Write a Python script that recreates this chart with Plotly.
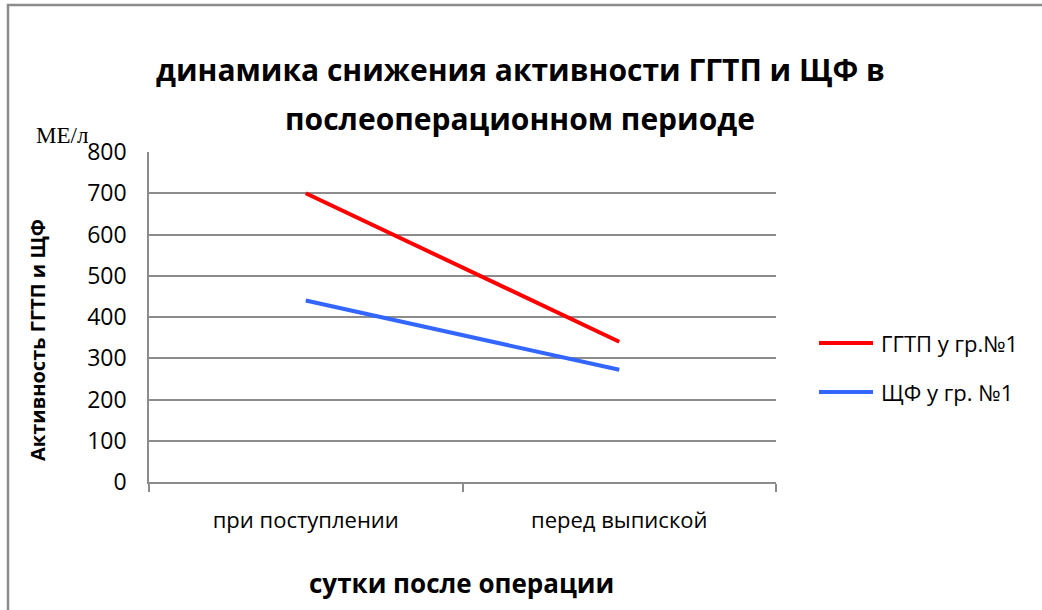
import plotly.graph_objects as go

# Data
categories = ["при поступлении", "перед выпиской"]
ggtp_values = [700, 340]
alp_values = [440, 272]
series_names = ["ГГТП у гр.№1", "ЩФ у гр. №1"]
series_colors = ["#ff0000", "#3366ff"]
y_tick_values = [0, 100, 200, 300, 400, 500, 600, 700, 800]

W, H = 1042, 610
L, R, T, B = 149, 266, 152, 128
PW, PH = W - L - R, H - T - B


def px_x(px):
    return (px - L) / PW


def px_y(py):
    return (H - B - py) / PH


FONT = "Open Sans"
GRID = "#8c8c8c"

fig = go.Figure()
for name, vals, col in zip(series_names, [ggtp_values, alp_values], series_colors):
    fig.add_trace(go.Scatter(
        x=categories, y=vals, mode="lines", name=name,
        line=dict(color=col, width=4), showlegend=False,
    ))

fig.update_layout(
    width=W, height=H,
    margin=dict(l=L, r=R, t=T, b=B),
    paper_bgcolor="white", plot_bgcolor="white",
    font=dict(family=FONT, color="#000000"),
    xaxis=dict(
        type="category", range=[-0.5, 1.5], tickson="boundaries",
        ticks="outside", ticklen=8, tickcolor=GRID, tickwidth=1.5,
        showline=True, linecolor=GRID, linewidth=1.5,
        showgrid=False, zeroline=False,
        tickfont=dict(family=FONT, size=22, color="#000000"),
        ticklabelstandoff=18,
    ),
    yaxis=dict(
        range=[0, 800], tickvals=y_tick_values,
        showgrid=True, gridcolor=GRID, gridwidth=1.5,
        showline=True, linecolor=GRID, linewidth=1.5,
        zeroline=False, ticks="",
        tickfont=dict(family=FONT, size=23, color="#000000"),
        ticklabelstandoff=16,
    ),
)

# Outer chart border
fig.add_shape(type="rect", xref="paper", yref="paper",
              x0=px_x(8), x1=px_x(W + 20), y0=px_y(H + 20), y1=px_y(5),
              line=dict(color="#8c8c8c", width=2.5), fillcolor="rgba(0,0,0,0)", layer="below")

# Title
fig.add_annotation(xref="paper", yref="paper", x=px_x(520), y=px_y(70),
                   text="<b>динамика снижения активности ГГТП и ЩФ в</b>",
                   showarrow=False, xanchor="center", yanchor="middle",
                   font=dict(family=FONT, size=30, color="#000000"))
fig.add_annotation(xref="paper", yref="paper", x=px_x(520), y=px_y(118),
                   text="<b>послеоперационном периоде</b>",
                   showarrow=False, xanchor="center", yanchor="middle",
                   font=dict(family=FONT, size=30, color="#000000"))

# Units label
fig.add_annotation(xref="paper", yref="paper", x=px_x(34), y=px_y(136),
                   text="МЕ/л", showarrow=False, xanchor="left", yanchor="middle",
                   font=dict(family="Liberation Serif", size=23, color="#000000"))

# Axis titles
fig.add_annotation(xref="paper", yref="paper", x=px_x(37), y=px_y(340),
                   text="<b>Активность ГГТП и ЩФ</b>", textangle=-90,
                   showarrow=False, xanchor="center", yanchor="middle",
                   font=dict(family=FONT, size=20, color="#000000"))
fig.add_annotation(xref="paper", yref="paper", x=px_x(461), y=px_y(583),
                   text="<b>сутки после операции</b>",
                   showarrow=False, xanchor="center", yanchor="middle",
                   font=dict(family=FONT, size=26, color="#000000"))

# Legend
legend_y = [343, 392]
for name, col, ly in zip(series_names, series_colors, legend_y):
    fig.add_shape(type="line", xref="paper", yref="paper",
                  x0=px_x(819), x1=px_x(873), y0=px_y(ly), y1=px_y(ly),
                  line=dict(color=col, width=4))
    fig.add_annotation(xref="paper", yref="paper", x=px_x(879), y=px_y(ly),
                       text=name, showarrow=False, xanchor="left", yanchor="middle",
                       font=dict(family=FONT, size=22, color="#000000"))

fig.write_html("out.html")
